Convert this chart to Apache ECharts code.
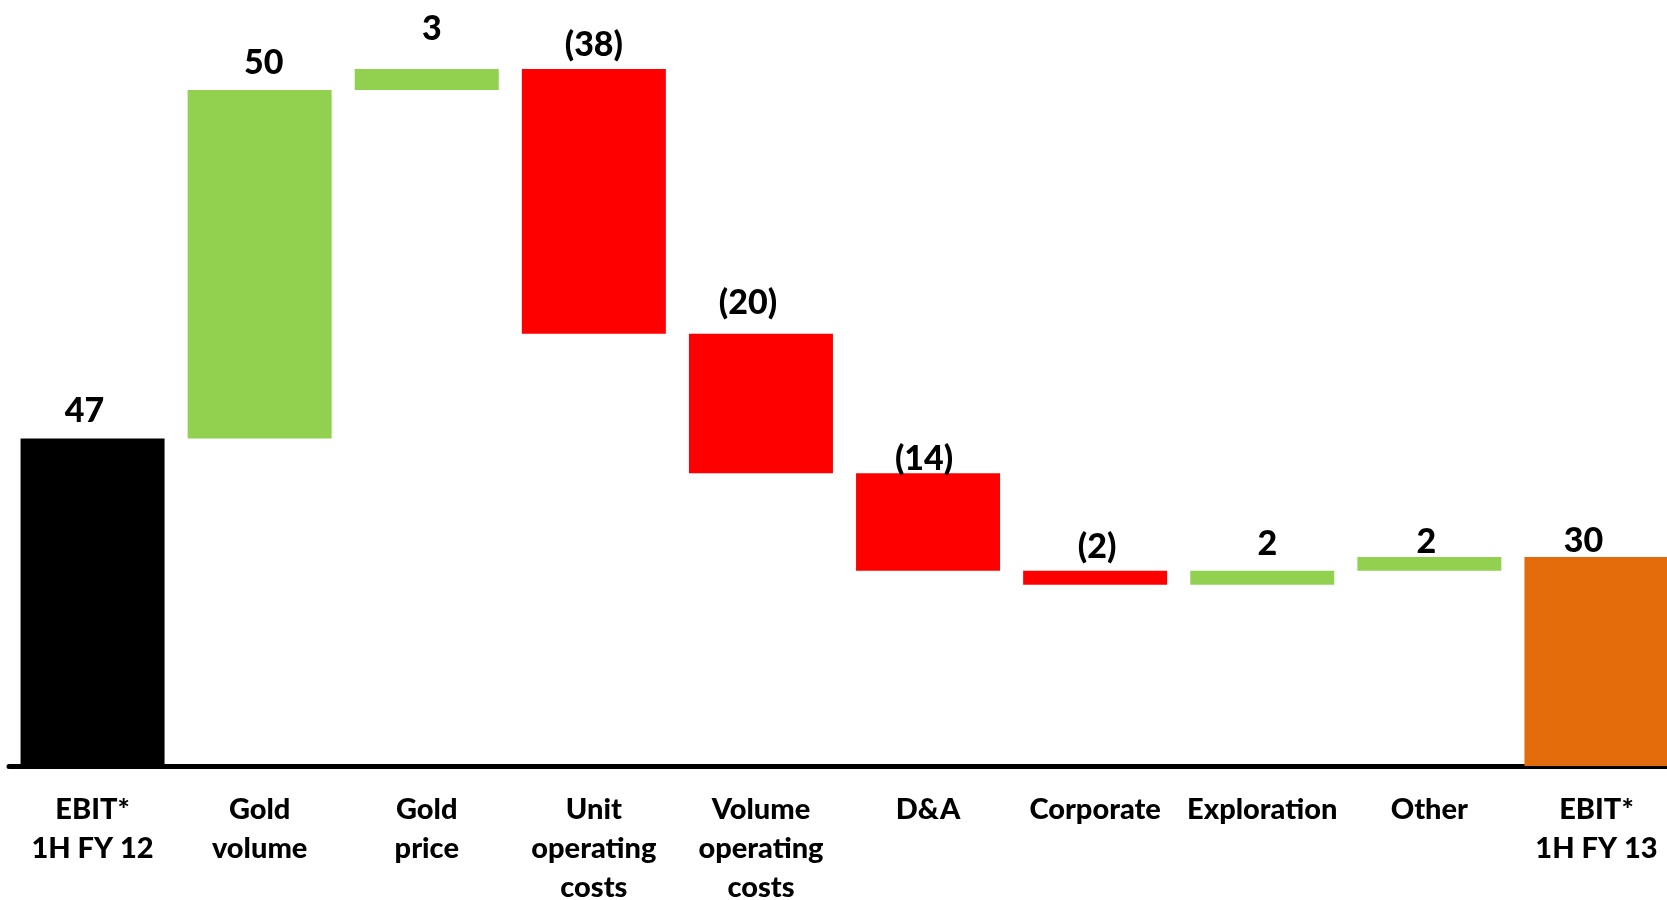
<!DOCTYPE html>
<html>
<head>
<meta charset="utf-8">
<title>EBIT bridge 1H FY12 to 1H FY13</title>
<script src="https://cdn.jsdelivr.net/npm/echarts@6/dist/echarts.min.js"></script>
<style>
  html, body { margin: 0; padding: 0; background: #ffffff; }
  #chart { width: 1667px; height: 900px; }
</style>
</head>
<body>
<div id="chart"></div>
<script>
// Bridge steps, left to right
const categories = [
  'EBIT*\n1H FY 12', 'Gold\nvolume', 'Gold\nprice', 'Unit\noperating\ncosts',
  'Volume\noperating\ncosts', 'D&A', 'Corporate', 'Exploration', 'Other', 'EBIT*\n1H FY 13'
];
// Opening total, movements, closing total
const values = [47, 50, 3, -38, -20, -14, -2, 2, 2, 30];
// Which entries are totals (drawn from zero)
const isTotal = [true, false, false, false, false, false, false, false, false, true];
// Value axis range
const axisMin = 0;
const axisMax = 100;

// Colours
const totalColors = { first: '#000000', last: '#E36C0A' };
const upColor = '#92D050';
const downColor = '#FF0000';
const font = 'Lato';

// Per-label nudges [dx, dy] in px
const labelNudge = [[-8, 0], [4, 0], [5, -13], [0, 3], [-13, -4], [-4, 13], [2, 3], [5, 0], [-3, 12], [-13, 11]];

// Build invisible base + visible segment for each step
const base = [];
const seg = [];
let running = 0;
values.forEach((v, i) => {
  let color;
  if (isTotal[i]) {
    base.push(0);
    seg.push(Math.abs(v));
    running = v;
    color = i === 0 ? totalColors.first : totalColors.last;
  } else {
    const next = running + v;
    base.push(Math.min(running, next));
    seg.push(Math.abs(v));
    running = next;
    color = v >= 0 ? upColor : downColor;
  }
  seg[i] = {
    value: seg[i],
    itemStyle: { color: color },
    label: { offset: labelNudge[i] }
  };
});

const fmt = v => (v < 0 ? '(' + Math.abs(v) + ')' : String(v));

const chart = echarts.init(document.getElementById('chart'), null, { renderer: 'canvas' });
chart.setOption({
  animation: false,
  backgroundColor: '#ffffff',
  grid: { left: 9, top: 69, width: 1671, bottom: 134, containLabel: false, outerBoundsMode: 'none' },
  xAxis: {
    type: 'category',
    data: categories,
    offset: 2,
    axisLine: { show: true, lineStyle: { color: '#000000', width: 5 } },
    axisTick: { show: false },
    axisLabel: {
      interval: 0,
      margin: 22,
      color: '#000000',
      fontFamily: font,
      fontWeight: 900,
      fontSize: 29,
      lineHeight: 39
    }
  },
  yAxis: {
    type: 'value',
    min: axisMin,
    max: axisMax,
    show: false,
    splitLine: { show: false }
  },
  series: [
    {
      type: 'bar',
      stack: 'bridge',
      data: base,
      barWidth: 144,
      itemStyle: { color: 'rgba(0,0,0,0)' },
      emphasis: { disabled: true },
      silent: true
    },
    {
      type: 'bar',
      stack: 'bridge',
      data: seg,
      barWidth: 144,
      label: {
        show: true,
        position: 'top',
        distance: 10,
        color: '#000000',
        fontFamily: font,
        fontWeight: 900,
        fontSize: 34,
        formatter: p => fmt(values[p.dataIndex])
      }
    }
  ]
});
</script>
</body>
</html>
